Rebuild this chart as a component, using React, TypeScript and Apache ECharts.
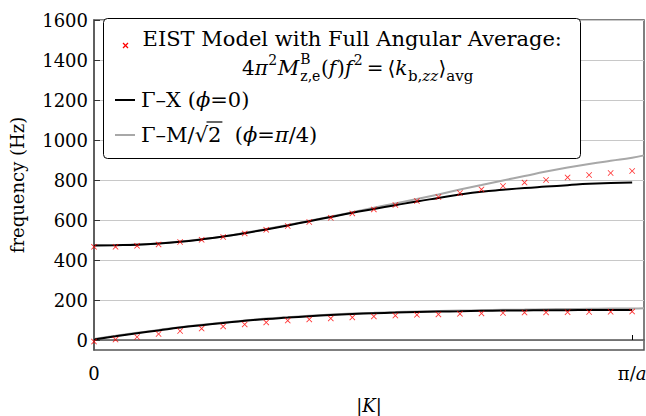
import React, { useEffect, useRef } from "react";
import * as echarts from "echarts";

// |K| sample positions (fraction of pi/a)
const kPoints = [0, 0.04, 0.08, 0.12, 0.16, 0.2, 0.24, 0.28, 0.32, 0.36, 0.4, 0.44, 0.48, 0.52, 0.56, 0.6, 0.64, 0.68, 0.72, 0.76, 0.8, 0.84, 0.88, 0.92, 0.96, 1];
const kGrayEnd = 1.022;

// EIST model markers (Hz)
const eistUpper = [466, 466, 471, 478, 490, 501, 515, 533, 551, 570, 590, 611, 633, 653, 675, 695, 715, 735, 753, 770, 787, 800, 813, 825, 835, 845];
const eistLower = [-8, 2, 15, 30, 45, 57, 68, 78, 88, 97, 103, 108, 113, 118, 122, 126, 128, 131, 133, 135, 137, 138, 139, 140, 141, 142];

// Gamma-X (phi = 0)
const gxUpper = [473, 474, 476, 482, 491, 503, 517, 534, 553, 573, 594, 615, 636, 655, 674, 693, 710, 727, 741, 751, 760, 767, 774, 781, 785, 788];
const gxLower = [3, 19, 34, 48, 62, 74, 85, 96, 105, 112, 119, 125, 130, 134, 137, 140, 142, 144, 146, 147, 148, 149, 149, 150, 150, 150];

// Gamma-M/sqrt2 (phi = pi/4), last value at kGrayEnd
const gmUpper = [474, 475, 477, 483, 492, 504, 518, 536, 555, 575, 596, 617, 639, 661, 683, 705, 728, 752, 775, 798, 820, 842, 862, 880, 896, 911, 923];
const gmLower = [5, 21, 36, 50, 64, 76, 87, 98, 107, 114, 121, 127, 132, 136, 140, 143, 145, 147, 149, 151, 152, 154, 155, 156, 157, 157, 159];

const yTicks = [0, 200, 400, 600, 800, 1000, 1200, 1400, 1600];
const xTicks = [0, 1];

const FONT = "DejaVu Serif";

const crossPath = "path://M0,1 L1,0 L5,4 L9,0 L10,1 L6,5 L10,9 L9,10 L5,6 L1,10 L0,9 L4,5 Z";

function pairs(xs: number[], ys: number[]) {
  return ys.map((y, i) => [xs[i], y]);
}

const fontStr = (size: number, italic: boolean) => `${italic ? "italic " : ""}${size}px "${FONT}"`;

let measureCtx: CanvasRenderingContext2D | null = null;
function measure(text: string, size: number, italic = false): number {
  if (!measureCtx) measureCtx = document.createElement("canvas").getContext("2d");
  if (!measureCtx) return text.length * size * 0.6;
  measureCtx.font = fontStr(size, italic);
  return measureCtx.measureText(text).width;
}

export default function App() {
  const ref = useRef<HTMLDivElement>(null);
  useEffect(() => {
    if (!ref.current) return;
    const chart = echarts.init(ref.current, undefined, { renderer: "svg" });
    const grayX = [...kPoints, kGrayEnd];
    const txt = (text: string, x: number, y: number, size: number, italic = false) => ({
      type: "text",
      z: 101,
      style: {
        text,
        x,
        y,
        font: fontStr(size, italic),
        fill: "#000",
        verticalAlign: "middle",
        align: "left",
      },
    });
    const richText = (text: string, x: number, y: number, size: number) => ({
      type: "text",
      z: 101,
      style: {
        text,
        x,
        y,
        verticalAlign: "middle",
        rich: {
          r: { fontFamily: FONT, fontSize: size, fill: "#000" },
          i: { fontFamily: FONT, fontSize: size, fill: "#000", fontStyle: "italic" },
        },
      },
    });

    // formula layout: 4π²M^B_{z,e}(f)f² = ⟨k_{b,zz}⟩_avg
    const MS = 20; // main size
    const SS = 14; // script size
    const yM = 68, ySup = 59.5, ySub = 76;
    const formula: any[] = [];
    let x = 242;
    const put = (t: string, size: number, italic: boolean, y: number, gapAfter = 0) => {
      formula.push(txt(t, x, y, size, italic));
      x += measure(t, size, italic) + gapAfter;
    };
    put("4", MS, false, yM);
    put("π", MS, true, yM, 0.5);
    put("2", SS, false, ySup, 0.5);
    put("M", 21, true, yM, 1);
    formula.push(txt("B", x, ySup - 1, SS, false));
    formula.push(txt("z,e", x, ySub, SS, false));
    x += Math.max(measure("B", SS), measure("z,e", SS)) + 0.5;
    put("(", MS, false, yM);
    put("f", MS, true, yM, 1);
    put(")", MS, false, yM);
    put("f", MS, true, yM, 1.5);
    put("2", SS, false, ySup, 4);
    put("=", MS, false, yM, 4);
    put("⟨", MS, false, yM);
    put("k", MS, true, yM, 0.5);
    formula.push(richText("{r|b,}{i|zz}", x, ySub, 15));
    x += measure("b,", 15) + measure("zz", 15, true) + 0.5;
    put("⟩", MS, false, yM);
    put("avg", 15, false, ySub);

    // overline for sqrt(2) in legend line 4
    const L4X = 141;
    const sqrtStart = L4X + measure("Γ–M/", 21) + measure("√", 21) - 1.5;
    const sqrtEnd = L4X + measure("Γ–M/√2", 21) + 1;

    const rich = {
      r: { fontFamily: FONT, fontSize: 18, color: "#000" },
      i: { fontFamily: FONT, fontSize: 18, color: "#000", fontStyle: "italic" },
    };
    const option: any = {
      animation: false,
      backgroundColor: "#fff",
      grid: {
        left: 94,
        right: 2,
        top: 20,
        bottom: 66,
        containLabel: false,
        outerBoundsMode: "none",
        show: true,
        borderColor: "#555",
        borderWidth: 1.5,
      },
      xAxis: {
        type: "value",
        min: 0,
        max: kGrayEnd,
        axisLine: { show: true, lineStyle: { color: "#555", width: 1.5 } },
        axisTick: { show: true, inside: true, length: 5, customValues: [1], lineStyle: { color: "#000" } },
        splitLine: { show: false },
        axisLabel: {
          customValues: xTicks,
          margin: 14,
          formatter: (v: number) => (v === 0 ? "{r|0}" : "{r|π/}{i|a}"),
          rich,
        },
        name: "{r||}{i|K}{r||}",
        nameLocation: "middle",
        nameGap: 46,
        nameTextStyle: { rich },
      },
      yAxis: {
        type: "value",
        min: -50,
        max: 1600,
        axisLine: { show: true, lineStyle: { color: "#555", width: 1.5 } },
        axisTick: { show: true, inside: true, length: 6, customValues: yTicks, lineStyle: { color: "#333" } },
        splitLine: { show: true, lineStyle: { color: "#c8c8c8", width: 1 } },
        axisLabel: {
          customValues: yTicks,
          margin: 6,
          formatter: (v: number) => String(v),
          fontFamily: FONT,
          fontSize: 18,
          color: "#000",
        },
        name: "frequency (Hz)",
        nameLocation: "middle",
        nameGap: 68,
        nameTextStyle: { fontFamily: FONT, fontSize: 18, color: "#000" },
      },
      series: [
        { type: "line", data: pairs(grayX, gmUpper), showSymbol: false, smooth: true, lineStyle: { color: "#a8a8a8", width: 2 }, silent: true },
        { type: "line", data: pairs(grayX, gmLower), showSymbol: false, smooth: true, lineStyle: { color: "#a8a8a8", width: 2 }, silent: true },
        { type: "line", data: pairs(kPoints, gxUpper), showSymbol: false, smooth: true, lineStyle: { color: "#000", width: 2 }, silent: true },
        { type: "line", data: pairs(kPoints, gxLower), showSymbol: false, smooth: true, lineStyle: { color: "#000", width: 2 }, silent: true },
        { type: "scatter", data: pairs(kPoints, eistUpper), symbol: crossPath, symbolSize: 6, itemStyle: { color: "#ff0000" }, silent: true, z: 5 },
        { type: "scatter", data: pairs(kPoints, eistLower), symbol: crossPath, symbolSize: 6, itemStyle: { color: "#ff0000" }, silent: true, z: 5 },
      ],
      graphic: [
        {
          type: "rect",
          z: 100,
          shape: { x: 103.5, y: 18.5, width: 477, height: 140, r: 4 },
          style: { fill: "#fff", stroke: "#000", lineWidth: 1 },
        },
        { type: "line", z: 101, shape: { x1: 123, y1: 43, x2: 128, y2: 48 }, style: { stroke: "#ff0000", lineWidth: 1.3 } },
        { type: "line", z: 101, shape: { x1: 128, y1: 43, x2: 123, y2: 48 }, style: { stroke: "#ff0000", lineWidth: 1.3 } },
        txt("EIST Model with Full Angular Average:", 142.6, 39, 21),
        ...formula,
        // legend lines
        { type: "line", z: 101, shape: { x1: 115, y1: 100, x2: 135, y2: 100 }, style: { stroke: "#000", lineWidth: 2 } },
        { type: "line", z: 101, shape: { x1: 115, y1: 135, x2: 135, y2: 135 }, style: { stroke: "#a8a8a8", lineWidth: 2 } },
        richText("{r|Γ–X (}{i|ϕ}{r|=0)}", 141, 100, 21),
        richText("{r|Γ–M/√2  (}{i|ϕ}{r|=}{i|π}{r|/4)}", L4X, 135, 21),
        { type: "line", z: 101, shape: { x1: sqrtStart, y1: 122, x2: sqrtEnd, y2: 122 }, style: { stroke: "#000", lineWidth: 1.2 } },
      ],
    };
    chart.setOption(option);
    return () => chart.dispose();
  }, []);
  return <div ref={ref} style={{ position: "fixed", left: 0, top: 0, width: 646, height: 416 }} />;
}
